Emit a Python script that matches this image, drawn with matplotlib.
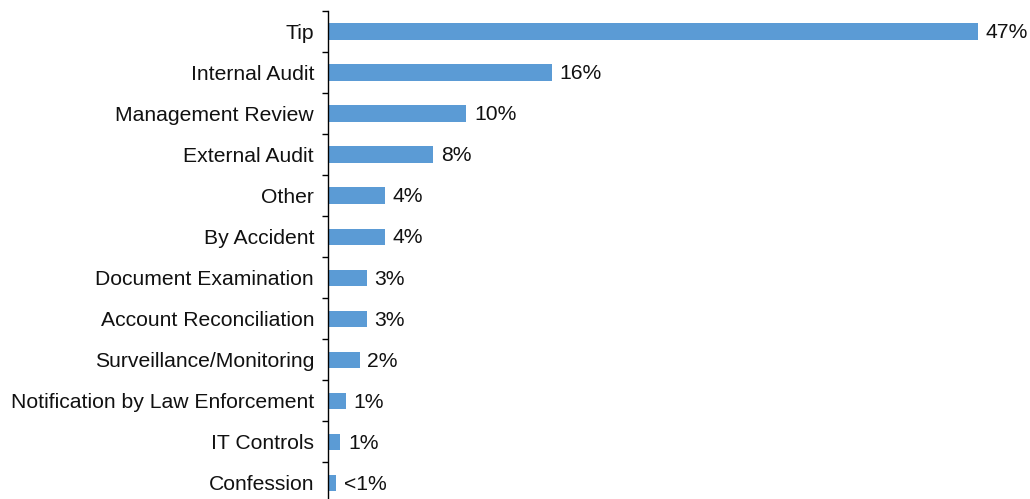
import matplotlib
matplotlib.use("Agg")
import matplotlib.pyplot as plt
import numpy as np

categories = [
    "Tip", "Internal Audit", "Management Review", "External Audit", "Other",
    "By Accident", "Document Examination", "Account Reconciliation",
    "Surveillance/Monitoring", "Notification by Law Enforcement",
    "IT Controls", "Confession",
]
values = [47.0, 16.2, 10.0, 7.6, 4.1, 4.1, 2.8, 2.8, 2.3, 1.3, 0.9, 0.6]


def pct_label(v):
    return "<1%" if v < 0.7 else f"{round(v)}%"


plt.rcParams["font.family"] = ["Liberation Sans", "DejaVu Sans"]

fig = plt.figure(figsize=(10.30, 4.99), dpi=100)
W, H = 1030, 499
left_px, top_px, bottom_px = 328, 11, 503.5
ax = fig.add_axes([left_px / W, 1 - bottom_px / H, (W - left_px) / W,
                   (bottom_px - top_px) / H])

n = len(categories)
y = np.arange(n)
ax.barh(y, values, height=0.4, color="#5B9BD5", zorder=2)

ax.set_ylim(n - 0.5, -0.5)
ax.set_xlim(0, (W - left_px) / (650 / 47.0))

for yi, v in zip(y, values):
    ax.text(v + 0.55, yi + 0.03, pct_label(v), va="center", ha="left",
            fontsize=15.2, color="#111111")

ax.set_yticks(y)
ax.set_yticklabels(categories, fontsize=15.2, color="#111111")
ax.tick_params(axis="y", which="major", length=0, pad=10)
ax.set_yticks(np.arange(-0.5, n, 1.0), minor=True)
ax.tick_params(axis="y", which="minor", length=4, width=1, direction="out",
               color="black")
ax.set_xticks([])

for s in ("top", "right", "bottom"):
    ax.spines[s].set_visible(False)
ax.spines["left"].set_linewidth(1)

fig.savefig("out.png", dpi=100)
